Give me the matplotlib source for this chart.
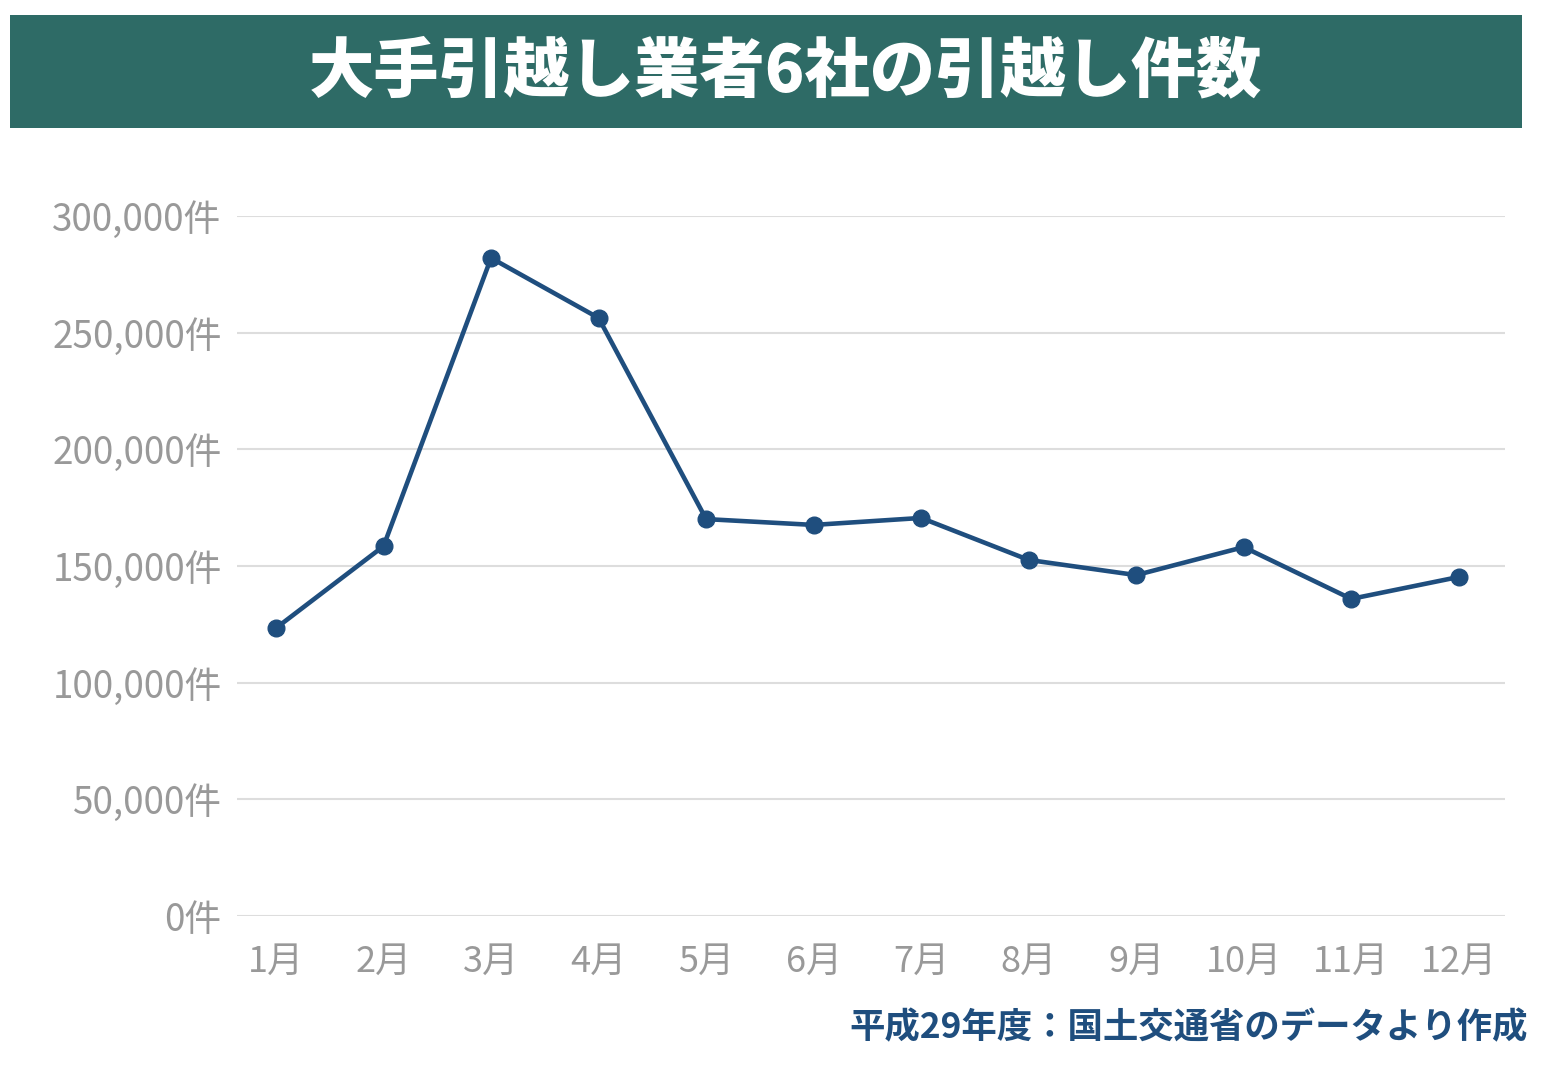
import matplotlib
matplotlib.use("Agg")
import matplotlib.pyplot as plt
from matplotlib.patches import Rectangle
from matplotlib.ticker import FuncFormatter

plt.rcParams['font.family'] = ['Noto Sans CJK JP', 'DejaVu Sans']

months = ["1月", "2月", "3月", "4月", "5月", "6月",
          "7月", "8月", "9月", "10月", "11月", "12月"]
moves = [123400, 158500, 282000, 256300, 170100, 167600,
         170600, 152600, 146100, 158100, 135900, 145300]
yticks = [0, 50000, 100000, 150000, 200000, 250000, 300000]

title = "大手引越し業者6社の引越し件数"
source = "平成29年度：国土交通省のデータより作成"

lineColor = "#1F4E7E"
bannerColor = "#2E6B66"
gray = "#999999"

fig = plt.figure(figsize=(15.48, 10.72), dpi=100)

# title banner
fig.patches.append(Rectangle((10 / 1548, 1 - 128 / 1072), 1512 / 1548, 113 / 1072,
                             transform=fig.transFigure, facecolor=bannerColor,
                             edgecolor="none"))
fig.text(785 / 1548, 1 - 72 / 1072, title, color="white", fontsize=47,
         fontweight="heavy", ha="center", va="center")

ax = fig.add_axes([237 / 1548, 156 / 1072, 1268 / 1548, 700 / 1072])
x = list(range(len(months)))
ax.plot(x, moves, color=lineColor, linewidth=3.3, marker="o", markersize=12,
        clip_on=False, zorder=3)

ax.set_ylim(0, 300000)
ax.set_xlim(-0.363, 11.43)
ax.set_yticks(yticks)
ax.yaxis.set_major_formatter(FuncFormatter(lambda v, p: f"{int(v):,}件"))
ax.set_xticks(x)
ax.set_xticklabels(months)
ax.grid(axis="y", color="#DDDDDD", linewidth=1.5)
ax.set_axisbelow(True)
for s in ax.spines.values():
    s.set_visible(False)
ax.tick_params(axis="y", length=0, pad=11, labelsize=26.5, labelcolor=gray)
ax.tick_params(axis="x", length=0, pad=20, labelsize=26, labelcolor=gray)

fig.text(1528 / 1548, 1 - 1028 / 1072, source, color=lineColor, fontsize=25.5,
         fontweight="bold", ha="right", va="center")

fig.savefig("out.png", dpi=100, facecolor="white")
